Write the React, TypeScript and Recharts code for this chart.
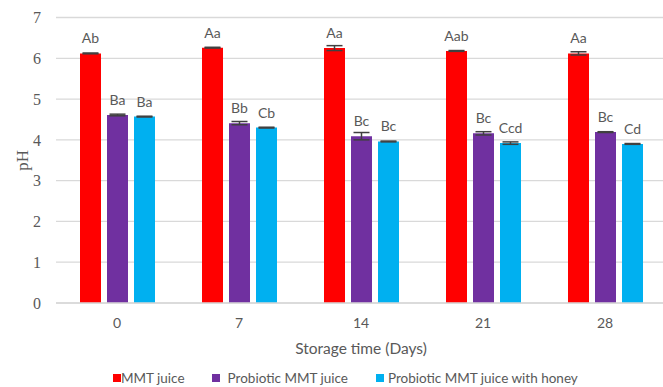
import React from 'react';
import {
  BarChart,
  Bar,
  XAxis,
  YAxis,
  CartesianGrid,
  Legend,
  ErrorBar,
  LabelList,
} from 'recharts';

// Storage days (x categories)
const days = ['0', '7', '14', '21', '28'];

// Mean pH per treatment
const mmtJuice = [6.12, 6.26, 6.25, 6.18, 6.12];
const probioticJuice = [4.61, 4.41, 4.09, 4.16, 4.19];
const probioticHoneyJuice = [4.57, 4.3, 3.96, 3.92, 3.9];

// Standard deviations
const mmtErr = [0.01, 0.01, 0.06, 0.01, 0.04];
const probioticErr = [0.02, 0.04, 0.09, 0.04, 0.01];
const honeyErr = [0.01, 0.01, 0.01, 0.03, 0.01];

// Significance letters
const mmtSig = ['Ab', 'Aa', 'Aa', 'Aab', 'Aa'];
const probioticSig = ['Ba', 'Bb', 'Bc', 'Bc', 'Bc'];
const honeySig = ['Ba', 'Cb', 'Bc', 'Ccd', 'Cd'];

const yTicks = [0, 1, 2, 3, 4, 5, 6, 7];

const series = [
  { key: 'mmt', name: 'MMT juice', color: '#FF0000' },
  { key: 'probiotic', name: 'Probiotic MMT juice', color: '#7030A0' },
  { key: 'honey', name: 'Probiotic MMT juice with honey', color: '#00B0F0' },
];

const data = days.map((day, i) => ({
  day,
  mmt: mmtJuice[i],
  probiotic: probioticJuice[i],
  honey: probioticHoneyJuice[i],
  mmtErr: mmtErr[i],
  probioticErr: probioticErr[i],
  honeyErr: honeyErr[i],
  mmtSig: mmtSig[i],
  probioticSig: probioticSig[i],
  honeySig: honeySig[i],
}));

const SANS = 'Lato, "Liberation Sans", sans-serif';
const SERIF = '"Liberation Serif", "DejaVu Serif", serif';
const TEXT = '#595959';

const renderSig = (props: any) => {
  const { x, y, width, value } = props;
  return (
    <text
      x={Number(x) + Number(width) / 2}
      y={Number(y) - 15.5}
      textAnchor="middle"
      dominantBaseline="central"
      fill={TEXT}
      fontFamily={SANS}
      fontSize={14}
    >
      {value}
    </text>
  );
};

const renderYLabel = (props: any) => {
  const vb = props.viewBox || {};
  const cy = vb.y + vb.height / 2;
  const cx = 22;
  return (
    <text
      x={cx}
      y={cy}
      transform={`rotate(-90, ${cx}, ${cy})`}
      textAnchor="middle"
      dominantBaseline="central"
      fill={TEXT}
      fontFamily={SERIF}
      fontSize={17}
    >
      pH
    </text>
  );
};

const legendGaps = [{ icon: 0, after: 27 }, { icon: 8, after: 28 }, { icon: 4, after: 0 }];

const renderLegend = () => (
  <div
    style={{
      display: 'flex',
      justifyContent: 'flex-start',
      alignItems: 'center',
      height: 18,
      paddingLeft: 113,
      fontFamily: SANS,
      fontSize: 13.5,
      lineHeight: '18px',
      color: TEXT,
      whiteSpace: 'nowrap',
    }}
  >
    {series.map((s, i) => (
      <div
        key={s.key}
        style={{
          display: 'flex',
          alignItems: 'center',
          marginRight: legendGaps[i].after,
        }}
      >
        <span
          style={{
            display: 'inline-block',
            width: 8,
            height: 8,
            background: s.color,
            marginRight: legendGaps[i].icon,
          }}
        />
        <span>{s.name}</span>
      </div>
    ))}
  </div>
);

export default function App() {
  return (
    <div
      style={{
        position: 'absolute',
        left: 0,
        top: 0,
        width: 663,
        height: 387,
        overflow: 'hidden',
        background: '#ffffff',
      }}
    >
      <BarChart
        width={671}
        height={387}
        data={data}
        margin={{ top: 17.5, right: 5, left: 0, bottom: 2 }}
        barSize={21}
        barGap={6}
      >
        <CartesianGrid vertical={false} stroke="#D9D9D9" strokeWidth={1.3} />
        <XAxis
          dataKey="day"
          height={64}
          axisLine={{ stroke: '#D9D9D9', strokeWidth: 1.3 }}
          tickLine={false}
          tickSize={0}
          tickMargin={15}
          tick={{ fill: TEXT, fontFamily: SANS, fontSize: 14 }}
          label={{
            value: 'Storage time (Days)',
            position: 'insideBottom',
            offset: 13.5,
            fill: TEXT,
            fontFamily: SANS,
            fontSize: 15.5,
          }}
        />
        <YAxis
          width={56}
          domain={[0, 7]}
          ticks={yTicks}
          axisLine={false}
          tickLine={false}
          tickSize={0}
          tickMargin={15}
          tick={{ fill: TEXT, fontFamily: SERIF, fontSize: 16 }}
          label={renderYLabel}
        />
        <Legend
          verticalAlign="bottom"
          content={renderLegend}
          wrapperStyle={{ top: 369, left: 0, width: 663, height: 18 }}
        />
        {series.map((s) => (
          <Bar
            key={s.key}
            dataKey={s.key}
            name={s.name}
            fill={s.color}
            isAnimationActive={false}
          >
            <ErrorBar
              dataKey={`${s.key}Err`}
              width={8}
              stroke="#404040"
              strokeWidth={1.5}
              direction="y"
              isAnimationActive={false}
            />
            <LabelList dataKey={`${s.key}Sig`} content={renderSig} />
          </Bar>
        ))}
      </BarChart>
    </div>
  );
}
